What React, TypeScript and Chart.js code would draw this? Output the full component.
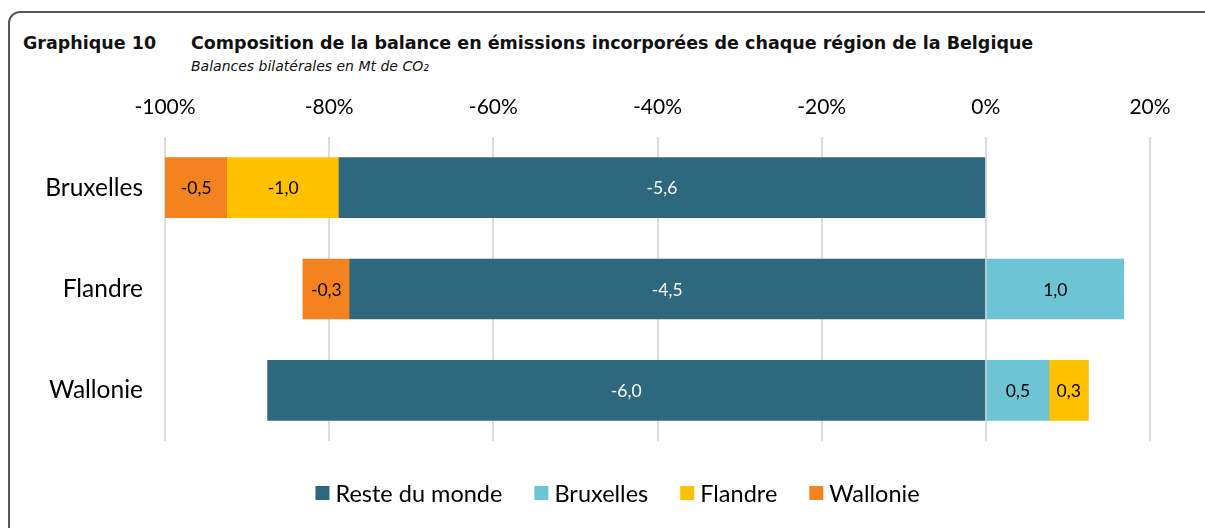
import React, { useEffect, useRef } from "react";
import { Chart, registerables } from "chart.js";

Chart.register(...registerables);

// Categories (regions) and series
const categories = ["Bruxelles", "Flandre", "Wallonie"];
const seriesNames = ["Reste du monde", "Bruxelles", "Flandre", "Wallonie"];
const seriesColors = ["#2E687E", "#6CC4D4", "#FFC000", "#F4821F"];

// Share of each bilateral balance (% of the region's total)
const resteShare = [-78.8, -77.5, -87.5];
const bruxellesShare = [null, 16.8, 7.7];
const flandreShare = [-13.6, null, 4.8];
const wallonieShare = [-7.6, -5.7, null];

// Bilateral balances in Mt CO2 (bar labels)
const resteMt = [-5.6, -4.5, -6.0];
const bruxellesMt = [null, 1.0, 0.5];
const flandreMt = [-1.0, null, 0.3];
const wallonieMt = [-0.5, -0.3, null];

// Axis ticks
const xMin = -100;
const xMax = 20;
const xStep = 20;

const titleLabel = "Graphique 10";
const titleText = "Composition de la balance en émissions incorporées de chaque région de la Belgique";
const subtitleText = "Balances bilatérales en Mt de CO\u2082";

const shares = [resteShare, bruxellesShare, flandreShare, wallonieShare];
const mts = [resteMt, bruxellesMt, flandreMt, wallonieMt];

const fmt = (v: number) => v.toFixed(1).replace(".", ",");

const barLabels = {
  id: "barLabels",
  afterDatasetsDraw(chart: any) {
    const ctx = chart.ctx;
    ctx.save();
    chart.data.datasets.forEach((ds: any, i: number) => {
      const meta = chart.getDatasetMeta(i);
      meta.data.forEach((bar: any, j: number) => {
        const v = ds.mt[j];
        if (v == null) return;
        const p = bar.getProps(["x", "base", "y"], true);
        ctx.font = "17.5px Lato";
        ctx.fillStyle = i === 0 ? "#ffffff" : "#000000";
        ctx.textAlign = "center";
        ctx.textBaseline = "middle";
        ctx.fillText(fmt(v), (p.x + p.base) / 2, p.y + 1);
      });
    });
    ctx.restore();
  },
};

const customLegend = {
  id: "customLegend",
  afterDraw(chart: any) {
    const ctx = chart.ctx;
    ctx.save();
    ctx.font = "23.5px Lato";
    const box = 14;
    const gap = 6;
    const spacing = 32;
    const items = chart.data.datasets.map((ds: any) => ({
      label: ds.label,
      color: ds.backgroundColor,
      w: ctx.measureText(ds.label).width,
    }));
    const total =
      items.reduce((s: number, it: any) => s + box + gap + it.w, 0) + spacing * (items.length - 1);
    const centerX = chart.width / 2 + 15;
    const y = chart.chartArea.bottom + 52;
    let x = centerX - total / 2;
    items.forEach((it: any) => {
      ctx.fillStyle = it.color;
      ctx.fillRect(x, y - box / 2, box, box);
      ctx.fillStyle = "#000000";
      ctx.textAlign = "left";
      ctx.textBaseline = "middle";
      ctx.fillText(it.label, x + box + gap, y + 1);
      x += box + gap + it.w + spacing;
    });
    ctx.restore();
  },
};

function BalanceChart() {
  const ref = useRef<HTMLCanvasElement | null>(null);
  useEffect(() => {
    if (!ref.current) return;
    const chart = new Chart(ref.current, {
      type: "bar",
      data: {
        labels: categories,
        datasets: seriesNames.map((name, i) => ({
          label: name,
          data: shares[i],
          mt: mts[i],
          backgroundColor: seriesColors[i],
          borderWidth: 0,
          barThickness: 60,
        })) as any,
      },
      options: {
        indexAxis: "y",
        responsive: false,
        animation: false,
        layout: { padding: { left: 0, right: 55, top: 0, bottom: 87 } },
        plugins: {
          legend: { display: false },
          tooltip: { enabled: false },
          title: { display: false },
        },
        scales: {
          x: {
            position: "top",
            stacked: true,
            min: xMin,
            max: xMax,
            ticks: {
              stepSize: xStep,
              color: "#000000",
              font: { family: "Lato", size: 21 },
              padding: 17,
              callback: (v: any) => `${v}%`,
            },
            grid: { color: "#dcdcdc", lineWidth: 2, drawTicks: false, tickLength: 0 },
            border: { display: false },
            afterFit: (s: any) => {
              s.height = 137;
            },
          },
          y: {
            stacked: true,
            ticks: {
              color: "#000000",
              font: { family: "Lato", size: 24.5 },
              padding: 22,
            },
            grid: { display: false, drawTicks: false },
            border: { display: false },
            afterFit: (s: any) => {
              s.width = 165;
            },
          },
        },
      } as any,
      plugins: [barLabels, customLegend],
    });
    return () => chart.destroy();
  }, []);
  return (
    <canvas
      ref={ref}
      width={1205}
      height={528}
      style={{ position: "absolute", left: 0, top: 0, width: 1205, height: 528 }}
    />
  );
}

export default function App() {
  return (
    <div
      style={{
        position: "fixed",
        left: 0,
        top: 0,
        width: 1205,
        height: 528,
        overflow: "hidden",
        background: "#ffffff",
      }}
    >
      <div
        style={{
          position: "absolute",
          left: 8,
          top: 11,
          width: 1400,
          height: 700,
          border: "2px solid #585858",
          borderTopLeftRadius: 12,
          boxSizing: "border-box",
        }}
      />
      <div
        style={{
          position: "absolute",
          left: 23,
          top: 35,
          font: "bold 17.5px 'DejaVu Sans'",
          lineHeight: "17px",
          color: "#111",
          whiteSpace: "nowrap",
        }}
      >
        {titleLabel}
      </div>
      <div
        style={{
          position: "absolute",
          left: 191,
          top: 35,
          font: "bold 17.5px 'DejaVu Sans'",
          lineHeight: "17px",
          color: "#111",
          whiteSpace: "nowrap",
        }}
      >
        {titleText}
      </div>
      <div
        style={{
          position: "absolute",
          left: 191,
          top: 59,
          font: "italic 14px 'DejaVu Sans'",
          lineHeight: "14px",
          color: "#111",
          whiteSpace: "nowrap",
        }}
      >
        {subtitleText}
      </div>
      <BalanceChart />
    </div>
  );
}
